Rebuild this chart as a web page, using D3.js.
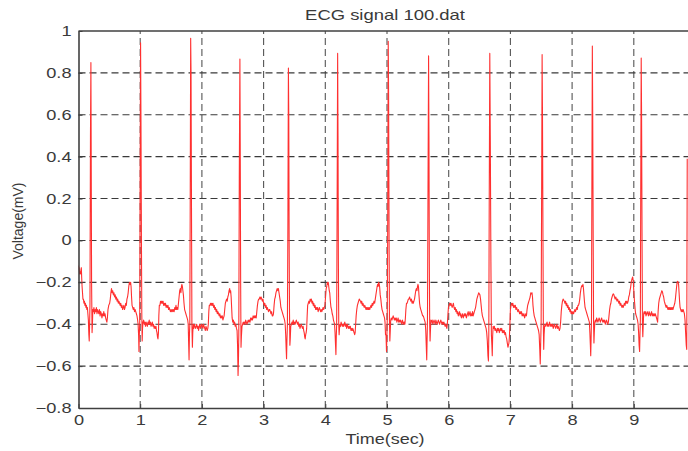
<!DOCTYPE html>
<html><head><meta charset="utf-8">
<script src="https://cdn.jsdelivr.net/npm/d3@7"></script>
<style>
html,body{margin:0;padding:0;background:#fff;}
svg{display:block;}
text{font-family:"Liberation Sans",Arial,sans-serif;fill:#3a3a3a;}
</style></head><body>
<svg id="chart" width="688" height="451"></svg>
<script>
const chartTitle = "ECG signal 100.dat";
const xLabel = "Time(sec)";
const yLabel = "Voltage(mV)";
const xTicks = [0,1,2,3,4,5,6,7,8,9];
const yTicks = [-0.8,-0.6,-0.4,-0.2,0,0.2,0.4,0.6,0.8,1];
const xDomain = [0,10];
const yDomain = [-0.8,1];
// [time (s), voltage (mV)]
const ecg = [
[0.000,-0.12],[0.006,-0.14],[0.012,-0.13],[0.018,-0.16],[0.025,-0.15],[0.032,-0.16],[0.040,-0.14],[0.046,-0.13],[0.052,-0.18],[0.058,-0.22],[0.065,-0.25],[0.072,-0.28],[0.080,-0.28],[0.088,-0.30],[0.096,-0.29],[0.104,-0.31],[0.112,-0.30],[0.120,-0.32],[0.128,-0.31],[0.136,-0.33],[0.144,-0.32],[0.152,-0.35],[0.160,-0.38],[0.168,-0.45],[0.174,-0.48],[0.180,-0.40],[0.186,-0.30],[0.194,0.50],[0.201,0.849],[0.206,0.40],[0.212,-0.20],[0.220,-0.44],[0.226,-0.40],[0.232,-0.33],[0.240,-0.34],[0.250,-0.32],[0.260,-0.35],[0.270,-0.33],[0.280,-0.34],[0.290,-0.32],[0.300,-0.35],[0.310,-0.33],[0.320,-0.34],[0.330,-0.35],[0.340,-0.33],[0.350,-0.36],[0.360,-0.34],[0.370,-0.35],[0.380,-0.37],[0.390,-0.35],[0.400,-0.36],[0.410,-0.34],[0.420,-0.36],[0.430,-0.35],[0.440,-0.37],[0.450,-0.38],[0.460,-0.39],[0.468,-0.37],[0.478,-0.33],[0.490,-0.31],[0.505,-0.30],[0.515,-0.28],[0.525,-0.25],[0.535,-0.23],[0.545,-0.25],[0.555,-0.24],[0.565,-0.26],[0.575,-0.25],[0.585,-0.27],[0.595,-0.26],[0.605,-0.28],[0.615,-0.27],[0.625,-0.29],[0.635,-0.28],[0.645,-0.30],[0.655,-0.29],[0.665,-0.30],[0.675,-0.31],[0.685,-0.30],[0.695,-0.32],[0.705,-0.31],[0.715,-0.33],[0.725,-0.32],[0.735,-0.31],[0.745,-0.33],[0.755,-0.32],[0.765,-0.30],[0.775,-0.31],[0.785,-0.28],[0.795,-0.27],[0.805,-0.25],[0.815,-0.22],[0.825,-0.20],[0.835,-0.21],[0.845,-0.20],[0.852,-0.22],[0.860,-0.27],[0.868,-0.31],[0.878,-0.32],[0.888,-0.33],[0.898,-0.32],[0.908,-0.34],[0.918,-0.33],[0.928,-0.34],[0.938,-0.35],[0.948,-0.36],[0.958,-0.38],[0.966,-0.40],[0.974,-0.45],[0.980,-0.53],[0.986,-0.45],[0.992,-0.40],[0.998,0.20],[1.006,0.944],[1.012,0.60],[1.020,0.00],[1.026,-0.35],[1.032,-0.48],[1.038,-0.42],[1.046,-0.39],
[1.056,-0.38],[1.066,-0.40],[1.076,-0.39],[1.086,-0.41],[1.096,-0.39],[1.106,-0.40],[1.116,-0.41],[1.126,-0.39],[1.136,-0.40],[1.146,-0.38],[1.156,-0.40],[1.166,-0.39],[1.176,-0.41],[1.186,-0.40],[1.196,-0.39],[1.206,-0.41],[1.216,-0.40],[1.226,-0.42],[1.236,-0.41],[1.246,-0.42],[1.256,-0.41],[1.264,-0.43],[1.272,-0.44],[1.280,-0.46],[1.288,-0.47],[1.296,-0.44],[1.302,-0.36],[1.310,-0.31],[1.320,-0.31],[1.330,-0.29],[1.340,-0.30],[1.350,-0.29],[1.360,-0.30],[1.370,-0.29],[1.380,-0.31],[1.390,-0.30],[1.400,-0.31],[1.410,-0.30],[1.420,-0.32],[1.430,-0.31],[1.440,-0.32],[1.450,-0.31],[1.460,-0.33],[1.470,-0.32],[1.480,-0.33],[1.490,-0.34],[1.500,-0.33],[1.510,-0.34],[1.520,-0.33],[1.530,-0.34],[1.540,-0.33],[1.550,-0.34],[1.560,-0.32],[1.570,-0.33],[1.580,-0.31],[1.590,-0.33],[1.600,-0.32],[1.610,-0.33],[1.620,-0.30],[1.630,-0.27],[1.640,-0.24],[1.650,-0.23],[1.660,-0.25],[1.668,-0.22],[1.676,-0.21],[1.684,-0.22],[1.692,-0.24],[1.700,-0.26],[1.710,-0.30],[1.720,-0.33],[1.730,-0.34],[1.740,-0.35],[1.750,-0.36],[1.760,-0.37],[1.770,-0.38],[1.778,-0.40],[1.786,-0.50],[1.792,-0.57],[1.798,-0.45],[1.804,-0.40],[1.810,0.10],[1.818,0.965],[1.824,0.80],[1.832,0.10],[1.838,-0.40],[1.846,-0.51],[1.852,-0.44],[1.860,-0.40],[1.868,-0.42],[1.876,-0.40],[1.886,-0.41],[1.896,-0.42],[1.906,-0.41],[1.916,-0.40],[1.926,-0.42],[1.936,-0.41],[1.946,-0.43],[1.956,-0.41],[1.966,-0.40],[1.976,-0.42],[1.986,-0.41],[1.996,-0.40],[2.006,-0.41],[2.016,-0.42],[2.026,-0.40],[2.036,-0.41],[2.046,-0.42],[2.056,-0.43],[2.066,-0.41],[2.076,-0.42],[2.086,-0.43],[2.096,-0.42],[2.104,-0.40],[2.112,-0.34],[2.120,-0.31],[2.130,-0.31],[2.140,-0.30],[2.150,-0.31],[2.160,-0.30],[2.170,-0.31],[2.180,-0.30],[2.190,-0.32],[2.200,-0.31],[2.210,-0.33],[2.220,-0.32],[2.230,-0.34],[2.240,-0.33],[2.250,-0.35],[2.260,-0.34],[2.270,-0.35],[2.280,-0.36],[2.290,-0.35],[2.300,-0.37],[2.310,-0.36],[2.320,-0.37],[2.330,-0.36],[2.340,-0.38],[2.350,-0.37],[2.360,-0.36],[2.370,-0.33],[2.380,-0.30],[2.390,-0.29],[2.400,-0.28],[2.410,-0.29],[2.420,-0.27],[2.430,-0.26],[2.440,-0.24],[2.450,-0.23],[2.458,-0.25],[2.466,-0.24],[2.474,-0.27],[2.482,-0.32],[2.490,-0.37],[2.500,-0.39],[2.510,-0.38],[2.520,-0.40],[2.530,-0.39],[2.540,-0.41],[2.550,-0.40],[2.560,-0.42],[2.570,-0.43],[2.578,-0.50],[2.586,-0.645],[2.592,-0.58],[2.598,-0.45],[2.606,0.30],[2.616,0.866],[2.622,0.40],[2.628,-0.20],[2.634,-0.51],[2.640,-0.46],[2.650,-0.41],[2.660,-0.40],[2.670,-0.39],[2.680,-0.40],[2.690,-0.39],[2.700,-0.40],[2.710,-0.38],[2.720,-0.39],[2.730,-0.40],[2.740,-0.39],[2.750,-0.38],[2.760,-0.39],[2.770,-0.38],[2.780,-0.39],[2.790,-0.37],[2.800,-0.38],[2.810,-0.37],[2.820,-0.38],[2.830,-0.36],[2.840,-0.37],[2.850,-0.36],[2.860,-0.37],[2.870,-0.36],[2.880,-0.37],[2.890,-0.34],[2.900,-0.31],[2.910,-0.29],[2.920,-0.28],[2.930,-0.28],[2.940,-0.27],[2.950,-0.28],[2.960,-0.27],[2.970,-0.28],[2.980,-0.29],[2.990,-0.28],[3.000,-0.30],[3.010,-0.31],[3.020,-0.30],[3.030,-0.32],[3.040,-0.31],[3.050,-0.33],[3.060,-0.32],[3.070,-0.33],[3.080,-0.34],[3.090,-0.33],[3.100,-0.33],[3.110,-0.34],[3.120,-0.35],[3.130,-0.34],[3.140,-0.36],[3.150,-0.36],[3.160,-0.35],[3.170,-0.31],[3.180,-0.28],[3.190,-0.27],[3.200,-0.25],[3.210,-0.24],[3.220,-0.23],[3.230,-0.24],[3.240,-0.23],[3.250,-0.25],[3.260,-0.27],[3.270,-0.29],[3.280,-0.32],[3.290,-0.33],[3.300,-0.34],[3.310,-0.35],[3.320,-0.36],[3.330,-0.37],[3.340,-0.38],[3.350,-0.40],[3.358,-0.45],[3.366,-0.52],[3.372,-0.565],[3.378,-0.48],[3.386,-0.40],[3.394,0.10],[3.402,0.823],[3.408,0.60],[3.414,0.00],[3.420,-0.35],[3.426,-0.50],[3.432,-0.47],[3.440,-0.41],
[3.450,-0.40],[3.460,-0.39],[3.470,-0.40],[3.480,-0.38],[3.490,-0.40],[3.500,-0.39],[3.510,-0.40],[3.520,-0.39],[3.530,-0.38],[3.540,-0.39],[3.550,-0.40],[3.560,-0.39],[3.570,-0.41],[3.580,-0.40],[3.590,-0.42],[3.600,-0.41],[3.610,-0.40],[3.620,-0.41],[3.630,-0.42],[3.640,-0.41],[3.650,-0.43],[3.658,-0.44],[3.666,-0.46],[3.674,-0.47],[3.682,-0.45],[3.690,-0.44],[3.698,-0.42],[3.706,-0.36],[3.714,-0.31],[3.724,-0.30],[3.734,-0.29],[3.744,-0.30],[3.754,-0.28],[3.764,-0.29],[3.774,-0.28],[3.784,-0.30],[3.794,-0.29],[3.804,-0.31],[3.814,-0.30],[3.824,-0.32],[3.834,-0.31],[3.844,-0.33],[3.854,-0.32],[3.864,-0.33],[3.874,-0.32],[3.884,-0.34],[3.894,-0.33],[3.904,-0.32],[3.914,-0.33],[3.924,-0.34],[3.934,-0.33],[3.944,-0.34],[3.954,-0.33],[3.964,-0.32],[3.974,-0.33],[3.984,-0.32],[3.994,-0.31],[4.004,-0.27],[4.014,-0.23],[4.024,-0.22],[4.032,-0.20],[4.040,-0.21],[4.048,-0.20],[4.056,-0.22],[4.064,-0.24],[4.072,-0.25],[4.082,-0.29],[4.092,-0.32],[4.102,-0.33],[4.112,-0.35],[4.122,-0.36],[4.132,-0.38],[4.142,-0.39],[4.150,-0.40],[4.158,-0.44],[4.166,-0.50],[4.172,-0.545],[4.178,-0.46],[4.184,-0.40],[4.192,0.20],[4.200,0.893],[4.206,0.50],[4.212,-0.10],[4.218,-0.40],[4.224,-0.45],[4.230,-0.42],[4.238,-0.40],[4.246,-0.41],[4.256,-0.39],[4.266,-0.40],[4.276,-0.41],[4.286,-0.40],[4.296,-0.41],[4.306,-0.40],[4.316,-0.39],[4.326,-0.41],[4.336,-0.40],[4.346,-0.42],[4.356,-0.40],[4.366,-0.41],[4.376,-0.42],[4.386,-0.41],[4.396,-0.42],[4.406,-0.41],[4.416,-0.43],[4.426,-0.42],[4.436,-0.43],[4.446,-0.42],[4.456,-0.43],[4.466,-0.44],[4.476,-0.45],[4.484,-0.44],[4.492,-0.40],[4.500,-0.36],[4.510,-0.33],[4.520,-0.31],[4.530,-0.30],[4.540,-0.29],[4.550,-0.28],[4.560,-0.285],[4.570,-0.29],[4.580,-0.30],[4.590,-0.29],[4.600,-0.31],[4.610,-0.30],[4.620,-0.31],[4.630,-0.32],[4.640,-0.31],[4.650,-0.32],[4.660,-0.33],[4.670,-0.32],[4.680,-0.33],[4.690,-0.32],[4.700,-0.33],[4.710,-0.32],[4.720,-0.33],[4.730,-0.32],[4.740,-0.31],[4.750,-0.32],[4.760,-0.30],[4.770,-0.31],[4.780,-0.30],[4.790,-0.29],[4.800,-0.30],[4.810,-0.28],[4.820,-0.26],[4.830,-0.24],[4.840,-0.22],[4.848,-0.21],[4.856,-0.22],[4.864,-0.20],[4.872,-0.205],[4.880,-0.22],[4.890,-0.26],[4.900,-0.28],[4.910,-0.31],[4.920,-0.33],[4.930,-0.34],[4.940,-0.35],[4.950,-0.36],[4.960,-0.37],[4.968,-0.39],[4.976,-0.45],[4.984,-0.45],[4.992,-0.53],[4.998,-0.46],[5.004,-0.38],[5.012,0.10],[5.020,0.951],[5.026,0.70],[5.034,0.00],[5.040,-0.38],[5.046,-0.48],[5.052,-0.44],[5.060,-0.38],
[5.070,-0.37],[5.080,-0.38],[5.090,-0.37],[5.100,-0.36],[5.110,-0.37],[5.120,-0.38],[5.130,-0.37],[5.140,-0.38],[5.150,-0.37],[5.160,-0.39],[5.170,-0.38],[5.180,-0.37],[5.190,-0.39],[5.200,-0.38],[5.210,-0.39],[5.220,-0.38],[5.230,-0.39],[5.240,-0.40],[5.250,-0.38],[5.260,-0.39],[5.270,-0.40],[5.280,-0.39],[5.290,-0.40],[5.298,-0.37],[5.306,-0.33],[5.316,-0.30],[5.326,-0.30],[5.336,-0.29],[5.346,-0.28],[5.356,-0.28],[5.366,-0.27],[5.376,-0.28],[5.386,-0.29],[5.396,-0.28],[5.406,-0.30],[5.416,-0.29],[5.426,-0.30],[5.436,-0.29],[5.446,-0.28],[5.456,-0.26],[5.466,-0.24],[5.476,-0.23],[5.486,-0.24],[5.494,-0.22],[5.502,-0.21],[5.510,-0.22],[5.518,-0.26],[5.528,-0.30],[5.538,-0.32],[5.548,-0.33],[5.558,-0.34],[5.568,-0.35],[5.578,-0.36],[5.588,-0.36],[5.598,-0.37],[5.608,-0.38],[5.618,-0.39],[5.628,-0.43],[5.636,-0.50],[5.644,-0.57],[5.650,-0.47],[5.656,-0.38],[5.664,0.20],[5.674,0.881],[5.680,0.50],[5.686,-0.10],[5.692,-0.40],[5.698,-0.48],[5.704,-0.43],[5.712,-0.38],[5.722,-0.39],[5.732,-0.38],[5.742,-0.40],[5.752,-0.39],[5.762,-0.38],[5.772,-0.39],[5.782,-0.40],[5.792,-0.38],[5.802,-0.39],[5.812,-0.40],[5.822,-0.39],[5.832,-0.38],[5.842,-0.39],[5.852,-0.40],[5.862,-0.39],[5.872,-0.38],[5.882,-0.39],[5.892,-0.40],[5.902,-0.39],[5.912,-0.40],[5.922,-0.39],[5.932,-0.40],[5.942,-0.41],[5.952,-0.40],[5.962,-0.41],[5.970,-0.42],[5.978,-0.40],[5.988,-0.35],[5.996,-0.32],[6.006,-0.31],[6.016,-0.30],[6.026,-0.31],[6.036,-0.30],[6.046,-0.31],[6.056,-0.32],[6.066,-0.31],[6.076,-0.30],[6.086,-0.32],[6.096,-0.33],[6.106,-0.32],[6.116,-0.34],[6.126,-0.33],[6.136,-0.35],[6.146,-0.34],[6.156,-0.36],[6.166,-0.35],[6.176,-0.34],[6.186,-0.36],[6.196,-0.35],[6.206,-0.37],[6.216,-0.36],[6.226,-0.35],[6.236,-0.37],[6.246,-0.36],[6.256,-0.35],[6.266,-0.36],[6.276,-0.35],[6.286,-0.37],[6.296,-0.36],[6.306,-0.35],[6.316,-0.34],[6.326,-0.36],[6.336,-0.35],[6.346,-0.34],[6.356,-0.36],[6.366,-0.35],[6.376,-0.36],[6.386,-0.34],[6.396,-0.36],[6.406,-0.35],[6.416,-0.34],[6.426,-0.33],[6.436,-0.32],[6.446,-0.30],[6.456,-0.28],[6.466,-0.27],[6.476,-0.26],[6.486,-0.25],[6.496,-0.255],[6.506,-0.26],[6.516,-0.28],[6.526,-0.31],[6.536,-0.34],[6.546,-0.36],[6.556,-0.37],[6.566,-0.38],[6.576,-0.39],[6.586,-0.40],[6.596,-0.41],[6.606,-0.42],[6.616,-0.44],[6.626,-0.48],[6.636,-0.55],[6.644,-0.575],[6.650,-0.45],[6.656,0.10],[6.666,0.893],[6.674,0.50],[6.684,-0.10],[6.692,-0.45],[6.700,-0.50],[6.706,-0.55],[6.712,-0.46],[6.720,-0.41],
[6.730,-0.42],[6.740,-0.41],[6.750,-0.43],[6.760,-0.42],[6.770,-0.43],[6.780,-0.44],[6.790,-0.42],[6.800,-0.43],[6.810,-0.42],[6.820,-0.44],[6.830,-0.43],[6.840,-0.42],[6.850,-0.43],[6.860,-0.42],[6.870,-0.44],[6.880,-0.43],[6.890,-0.44],[6.900,-0.43],[6.910,-0.45],[6.920,-0.44],[6.930,-0.46],[6.940,-0.47],[6.950,-0.49],[6.960,-0.51],[6.968,-0.50],[6.976,-0.49],[6.984,-0.46],[6.992,-0.40],[7.000,-0.33],[7.010,-0.31],[7.020,-0.30],[7.030,-0.31],[7.040,-0.30],[7.050,-0.32],[7.060,-0.31],[7.070,-0.32],[7.080,-0.31],[7.090,-0.33],[7.100,-0.32],[7.110,-0.33],[7.120,-0.34],[7.130,-0.33],[7.140,-0.34],[7.150,-0.35],[7.160,-0.34],[7.170,-0.35],[7.180,-0.34],[7.190,-0.36],[7.200,-0.35],[7.210,-0.36],[7.220,-0.35],[7.230,-0.37],[7.240,-0.36],[7.250,-0.35],[7.260,-0.36],[7.270,-0.33],[7.280,-0.31],[7.290,-0.30],[7.300,-0.29],[7.310,-0.28],[7.320,-0.27],[7.330,-0.25],[7.340,-0.255],[7.350,-0.25],[7.358,-0.27],[7.366,-0.31],[7.376,-0.34],[7.386,-0.36],[7.396,-0.37],[7.406,-0.38],[7.416,-0.39],[7.426,-0.40],[7.436,-0.41],[7.446,-0.42],[7.456,-0.43],[7.466,-0.45],[7.476,-0.52],[7.484,-0.59],[7.490,-0.50],[7.498,-0.40],[7.506,0.20],[7.514,0.887],[7.520,0.60],[7.528,0.00],[7.534,-0.40],[7.540,-0.52],[7.546,-0.45],[7.554,-0.41],[7.564,-0.40],[7.574,-0.41],[7.584,-0.40],[7.594,-0.39],[7.604,-0.41],[7.614,-0.40],[7.624,-0.41],[7.634,-0.39],[7.644,-0.40],[7.654,-0.41],[7.664,-0.40],[7.674,-0.41],[7.684,-0.40],[7.694,-0.42],[7.704,-0.41],[7.714,-0.40],[7.724,-0.41],[7.734,-0.42],[7.744,-0.41],[7.754,-0.40],[7.764,-0.42],[7.774,-0.41],[7.784,-0.42],[7.794,-0.43],[7.804,-0.42],[7.814,-0.39],[7.824,-0.34],[7.834,-0.31],[7.844,-0.29],[7.854,-0.28],[7.864,-0.285],[7.874,-0.29],[7.884,-0.30],[7.894,-0.29],[7.904,-0.31],[7.914,-0.30],[7.924,-0.32],[7.934,-0.31],[7.944,-0.33],[7.954,-0.32],[7.964,-0.34],[7.974,-0.33],[7.984,-0.35],[7.994,-0.34],[8.004,-0.35],[8.014,-0.34],[8.024,-0.35],[8.034,-0.34],[8.044,-0.33],[8.054,-0.34],[8.064,-0.33],[8.074,-0.32],[8.084,-0.33],[8.094,-0.31],[8.104,-0.31],[8.114,-0.30],[8.124,-0.28],[8.134,-0.25],[8.144,-0.23],[8.152,-0.22],[8.160,-0.215],[8.168,-0.22],[8.176,-0.21],[8.184,-0.23],[8.192,-0.26],[8.200,-0.29],[8.210,-0.32],[8.220,-0.33],[8.230,-0.34],[8.240,-0.35],[8.250,-0.36],[8.260,-0.37],[8.270,-0.38],[8.280,-0.39],[8.288,-0.44],[8.296,-0.50],[8.302,-0.55],[8.308,-0.47],[8.314,-0.38],[8.320,0.20],[8.328,0.928],[8.334,0.60],[8.342,0.00],[8.348,-0.40],[8.354,-0.49],[8.360,-0.44],[8.368,-0.39],
[8.378,-0.38],[8.388,-0.39],[8.398,-0.37],[8.408,-0.38],[8.418,-0.39],[8.428,-0.38],[8.438,-0.37],[8.448,-0.38],[8.458,-0.39],[8.468,-0.38],[8.478,-0.37],[8.488,-0.38],[8.498,-0.39],[8.508,-0.38],[8.518,-0.39],[8.528,-0.38],[8.538,-0.40],[8.548,-0.39],[8.558,-0.38],[8.568,-0.39],[8.578,-0.40],[8.588,-0.39],[8.598,-0.36],[8.608,-0.33],[8.618,-0.31],[8.628,-0.30],[8.638,-0.28],[8.648,-0.27],[8.658,-0.26],[8.668,-0.255],[8.678,-0.26],[8.688,-0.27],[8.698,-0.28],[8.708,-0.27],[8.718,-0.28],[8.728,-0.29],[8.738,-0.28],[8.748,-0.29],[8.758,-0.30],[8.768,-0.29],[8.778,-0.31],[8.788,-0.30],[8.798,-0.31],[8.808,-0.32],[8.818,-0.31],[8.828,-0.32],[8.838,-0.31],[8.848,-0.30],[8.858,-0.31],[8.868,-0.29],[8.878,-0.30],[8.888,-0.29],[8.898,-0.30],[8.908,-0.29],[8.918,-0.27],[8.928,-0.26],[8.938,-0.24],[8.948,-0.225],[8.958,-0.20],[8.966,-0.19],[8.974,-0.18],[8.982,-0.175],[8.990,-0.19],[8.998,-0.23],[9.006,-0.27],[9.014,-0.30],[9.022,-0.33],[9.030,-0.35],[9.040,-0.36],[9.050,-0.37],[9.060,-0.38],[9.070,-0.40],[9.078,-0.44],[9.086,-0.50],[9.094,-0.53],[9.100,-0.45],[9.106,-0.38],[9.112,0.20],[9.120,0.871],[9.126,0.60],[9.134,0.00],[9.140,-0.40],[9.146,-0.46],[9.152,-0.41],[9.160,-0.35],
[9.168,-0.34],[9.178,-0.35],[9.188,-0.34],[9.198,-0.36],[9.208,-0.35],[9.218,-0.34],[9.228,-0.35],[9.238,-0.36],[9.248,-0.34],[9.258,-0.35],[9.268,-0.36],[9.278,-0.35],[9.288,-0.34],[9.298,-0.36],[9.308,-0.35],[9.318,-0.36],[9.328,-0.35],[9.338,-0.36],[9.348,-0.35],[9.358,-0.36],[9.368,-0.37],[9.378,-0.38],[9.386,-0.39],[9.394,-0.34],[9.404,-0.30],[9.414,-0.28],[9.424,-0.27],[9.434,-0.26],[9.444,-0.25],[9.454,-0.24],[9.464,-0.245],[9.474,-0.26],[9.484,-0.27],[9.494,-0.29],[9.504,-0.30],[9.514,-0.31],[9.524,-0.32],[9.534,-0.31],[9.544,-0.32],[9.554,-0.33],[9.564,-0.32],[9.574,-0.33],[9.584,-0.32],[9.594,-0.33],[9.604,-0.32],[9.614,-0.33],[9.624,-0.32],[9.634,-0.33],[9.644,-0.32],[9.654,-0.31],[9.664,-0.30],[9.674,-0.28],[9.684,-0.25],[9.694,-0.22],[9.702,-0.20],[9.710,-0.195],[9.718,-0.20],[9.726,-0.21],[9.734,-0.25],[9.742,-0.29],[9.750,-0.32],[9.760,-0.33],[9.770,-0.34],[9.780,-0.33],[9.790,-0.34],[9.800,-0.33],[9.810,-0.34],[9.820,-0.35],[9.830,-0.38],[9.840,-0.44],[9.850,-0.50],[9.858,-0.52],[9.866,0.39]
];

const svg = d3.select("#chart");
const L = 78.5, R = 695.5, T = 31, B = 408;
const x = d3.scaleLinear().domain(xDomain).range([L, R]);
const y = d3.scaleLinear().domain(yDomain).range([B, T]);

svg.append("defs").append("clipPath").attr("id","plotclip")
  .append("rect").attr("x", L).attr("y", T - 2).attr("width", R - L).attr("height", B - T + 4);

// grid
const grid = svg.append("g").attr("stroke", "#3a3a3a").attr("stroke-width", 1.1).attr("stroke-dasharray", "7,4");
grid.selectAll("line.v").data(xTicks.filter(d => d > xDomain[0])).join("line")
  .attr("class","v").attr("x1", d => x(d)).attr("x2", d => x(d)).attr("y1", B).attr("y2", T)
  .attr("stroke","#555");
grid.selectAll("line.h").data(yTicks.filter(d => d > yDomain[0] && d < yDomain[1])).join("line")
  .attr("class","h").attr("x1", L).attr("x2", R).attr("y1", d => y(d)).attr("y2", d => y(d));

// signal
const line = d3.line().x(d => x(d[0])).y(d => y(d[1]));
svg.append("path").datum(ecg).attr("clip-path","url(#plotclip)")
  .attr("fill","none").attr("stroke","#ff3030").attr("stroke-width",1.1)
  .attr("stroke-linejoin","round").attr("d", line);

// axes
const xAxis = svg.append("g").attr("transform", `translate(0,${B})`)
  .call(d3.axisBottom(x).tickValues(xTicks).tickFormat(d3.format("d")).tickSize(-4).tickSizeOuter(0).tickPadding(7));
const yAxis = svg.append("g").attr("transform", `translate(${L},0)`)
  .call(d3.axisLeft(y).tickValues(yTicks).tickFormat(d => d3.format("")(+d.toFixed(1))).tickSize(-4).tickSizeOuter(0).tickPadding(7));
[xAxis, yAxis].forEach(g => {
  g.select(".domain").attr("stroke","#404040").attr("stroke-width",1.6);
  g.selectAll(".tick line").attr("stroke","#404040");
  g.selectAll(".tick text").attr("fill","#3a3a3a").style("font-size","14px")
    .style("font-family",'"Liberation Sans", Arial, sans-serif');
});
xAxis.selectAll(".tick text").attr("transform","scale(1.3,1)");
yAxis.selectAll(".tick text").attr("x", -7/1.3).attr("transform","scale(1.3,1)");

// top border
svg.append("line").attr("x1", L).attr("x2", R).attr("y1", T).attr("y2", T)
  .attr("stroke","#404040").attr("stroke-width",1.6);
svg.append("line").attr("x1", R).attr("x2", R).attr("y1", T).attr("y2", B)
  .attr("stroke","#404040").attr("stroke-width",1.6);

// titles
svg.append("text").attr("transform", `translate(385,19.5) scale(1.23,1)`)
  .attr("text-anchor","middle").style("font-size","15px").text(chartTitle);
svg.append("text").attr("transform", `translate(385,444) scale(1.2,1)`)
  .attr("text-anchor","middle").style("font-size","15px").text(xLabel);
svg.append("text").attr("transform", `translate(22.5,221) rotate(-90)`)
  .attr("text-anchor","middle").style("font-size","14px").text(yLabel);
</script>
</body></html>
